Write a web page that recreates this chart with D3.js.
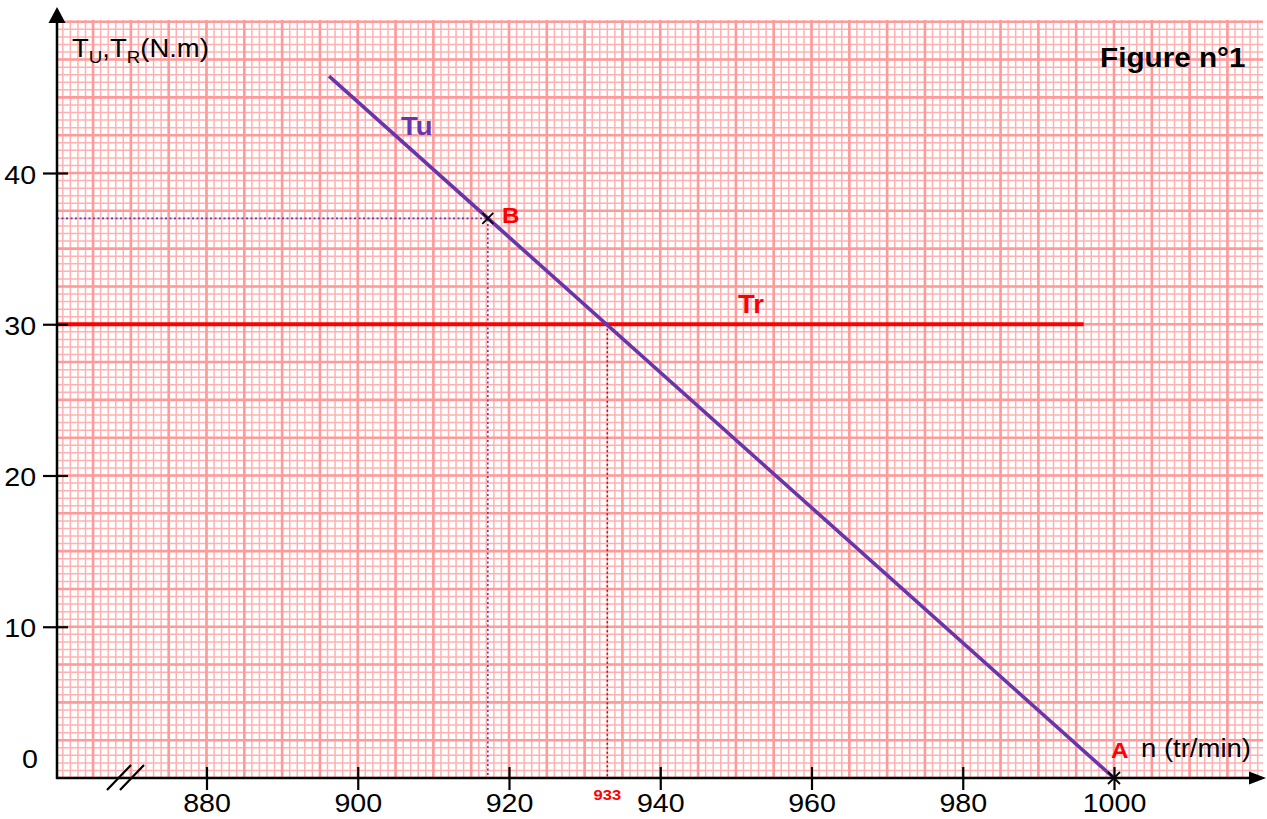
<!DOCTYPE html>
<html>
<head>
<meta charset="utf-8">
<script src="https://cdn.jsdelivr.net/npm/d3@7"></script>
<style>
  body { margin: 0; background: #fff; }
  text { font-family: "Liberation Sans", Arial, sans-serif; }
</style>
</head>
<body>
<div id="chart"></div>
<script>
// data
var xTicks = [880, 900, 920, 940, 960, 980, 1000];
var yTicks = [10, 20, 30, 40];
var tuLine = [[896.2, 46.4], [1000, 0]];      // Tu (N.m) vs n (tr/min)
var trLine = [[860.2, 30], [996, 30]];        // Tr constant
var pointA = [1000, 0];
var pointB = [917.2, 37];
var nEquilibrium = 933;                        // Tu = Tr
var tEquilibrium = 30;

var W = 1267, H = 819;

var svg = d3.select("#chart")
  .append("svg")
    .attr("width", W)
    .attr("height", H);

// scales (pixels per unit taken from the tick positions)
var x = d3.scaleLinear().domain([880, 1000]).range([206.5, 1114]);
var y = d3.scaleLinear().domain([0, 40]).range([778, 173]);

var x0 = 57, y0 = 778;          // axis origin in pixels
var gridTop = 20, gridRight = 1263;

// clip for graph paper
svg.append("clipPath").attr("id", "paper")
  .append("rect")
    .attr("x", x0).attr("y", gridTop)
    .attr("width", gridRight - x0).attr("height", y0 - gridTop);

var grid = svg.append("g").attr("clip-path", "url(#paper)");

var xMinor = d3.range(855, 1025, 1),
    yMinor = d3.range(0, 51, 0.5);

function drawGrid(xs, ys, color, w) {
  grid.append("g").selectAll("line")
    .data(xs).enter().append("line")
      .attr("x1", d => x(d)).attr("x2", d => x(d))
      .attr("y1", gridTop).attr("y2", y0)
      .attr("stroke", color).attr("stroke-width", w);
  grid.append("g").selectAll("line")
    .data(ys).enter().append("line")
      .attr("y1", d => y(d)).attr("y2", d => y(d))
      .attr("x1", x0).attr("x2", gridRight)
      .attr("stroke", color).attr("stroke-width", w);
}
drawGrid(xMinor, yMinor, "#ffb0b0", 1.5);
drawGrid(xMinor.filter(d => d % 5 == 0), yMinor.filter(d => d % 2.5 == 0), "#ff9a9a", 2.6);

// helper for the slightly wide lettering of the original
function label(px, py, txt, size, opts) {
  opts = opts || {};
  return svg.append("text")
    .attr("transform", "translate(" + px + "," + py + ") scale(1.1,1)")
    .attr("text-anchor", opts.anchor || "start")
    .style("font-size", size + "px")
    .style("font-weight", opts.bold ? "bold" : "normal")
    .style("fill", opts.color || "#000")
    .text(txt);
}

// dotted guides
var line = d3.line().x(d => x(d[0])).y(d => y(d[1]));
svg.append("path")
  .attr("d", "M" + x0 + "," + y(pointB[1]) + "H" + x(pointB[0]) + "V" + y0)
  .attr("fill", "none").attr("stroke", "#5a3fb0")
  .attr("stroke-width", 1.6).attr("stroke-dasharray", "2,2.5");
svg.append("path")
  .attr("d", line([[nEquilibrium, tEquilibrium], [nEquilibrium, 0]]))
  .attr("fill", "none").attr("stroke", "#e00000")
  .attr("stroke-width", 1.6).attr("stroke-dasharray", "2,2.5");

// Tr and Tu
svg.append("path")
  .attr("d", "M" + x0 + "," + y(trLine[0][1]) + "H" + x(trLine[1][0]))
  .attr("stroke", "#ff0000").attr("stroke-width", 3.8);
svg.append("path")
  .attr("d", line(tuLine))
  .attr("fill", "none")
  .attr("stroke", "#6a35a8").attr("stroke-width", 3.6);

// axes
svg.append("line")
  .attr("x1", x0).attr("x2", x0).attr("y1", y0 + 1).attr("y2", 20)
  .attr("stroke", "#000").attr("stroke-width", 2.5);
svg.append("path").attr("d", "M57,7L48.5,23L65.5,23Z").attr("fill", "#000");
svg.append("line")
  .attr("x1", x0 - 1).attr("x2", 1252).attr("y1", y0).attr("y2", y0)
  .attr("stroke", "#000").attr("stroke-width", 2.5);
svg.append("path").attr("d", "M1266,778L1249,771.5L1249,784.5Z").attr("fill", "#000");

// x axis ticks
var gx = svg.append("g")
  .attr("transform", "translate(0," + y0 + ")")
  .call(d3.axisBottom(x).tickValues(xTicks).tickSize(12).tickFormat(d3.format("d")));
gx.select(".domain").remove();
gx.selectAll(".tick line").attr("y1", -11).attr("stroke", "#000").attr("stroke-width", 2.2);
gx.selectAll(".tick text")
  .attr("y", 34).attr("dy", null)
  .attr("transform", "scale(1.1,1)")
  .style("font-size", "26px")
  .style("font-family", "Liberation Sans, Arial, sans-serif")
  .attr("fill", "#000");

// y axis ticks
var gy = svg.append("g")
  .attr("transform", "translate(" + x0 + ",0)")
  .call(d3.axisLeft(y).tickValues(yTicks).tickSize(14));
gy.select(".domain").remove();
gy.selectAll(".tick line").attr("x1", 11).attr("stroke", "#000").attr("stroke-width", 2.2);
gy.selectAll(".tick text")
  .attr("x", -19).attr("dy", null).attr("y", 10)
  .attr("transform", "scale(1.1,1)")
  .style("font-size", "26px")
  .style("font-family", "Liberation Sans, Arial, sans-serif")
  .attr("fill", "#000");
label(38, 768, "0", 26, {anchor: "end"});

// axis break on x
svg.append("path")
  .attr("d", "M107,790L131,765M120,790L144,765")
  .attr("stroke", "#000").attr("stroke-width", 2.2);

// axis titles
var yt = label(72, 57, "", 25);
yt.append("tspan").text("T");
yt.append("tspan").attr("dy", 6).style("font-size", "17px").text("U");
yt.append("tspan").attr("dy", -6).text(",T");
yt.append("tspan").attr("dy", 6).style("font-size", "17px").text("R");
yt.append("tspan").attr("dy", -6).text("(N.m)");
label(1141, 757, "n (tr/min)", 25);
label(1100, 67, "Figure n°1", 27, {bold: true});

// series labels
label(401, 135, "Tu", 25, {bold: true, color: "#6a35a8"});
label(738, 313, "Tr", 25, {bold: true, color: "#ff0000"});
label(502, 223, "B", 22, {bold: true, color: "#ff0000"});
label(1111, 758, "A", 22, {bold: true, color: "#ff0000"});
label(x(nEquilibrium), 800, nEquilibrium, 15, {bold: true, color: "#ff0000", anchor: "middle"});

// markers
function cross(p, s) {
  var cx = x(p[0]), cy = y(p[1]);
  svg.append("path")
    .attr("d", "M" + (cx - s) + "," + (cy - s) + "L" + (cx + s) + "," + (cy + s) +
               "M" + (cx - s) + "," + (cy + s) + "L" + (cx + s) + "," + (cy - s))
    .attr("stroke", "#000").attr("stroke-width", 1.8);
}
cross(pointB, 5.5);
cross(pointA, 6);
</script>
</body>
</html>
